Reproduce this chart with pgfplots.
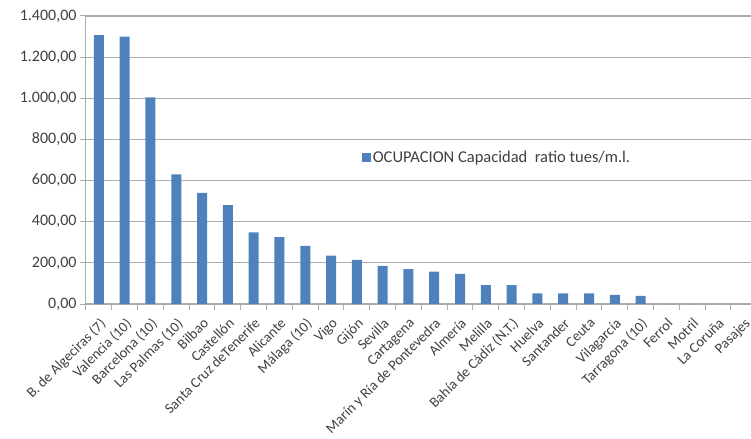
\documentclass[border=0pt]{standalone}
\usepackage{pgfplots}
\pgfplotsset{compat=1.18}
\usepackage{fontspec}
\setmainfont{Carlito}
\definecolor{barblue}{HTML}{4F81BD}
\definecolor{gridgray}{HTML}{ADADAD}
\definecolor{txtgray}{HTML}{404040}

\begin{document}
\begin{tikzpicture}
\begin{axis}[
  at={(0,0)}, anchor=south west,
  scale only axis,
  width=665bp, height=288bp,
  ybar, bar width=10bp,
  xmin=-0.5, xmax=25.28,
  ymin=0, ymax=1400,
  ytick={0,200,...,1400},
  axis lines*=left,
  axis line style={draw=gridgray, line width=1bp},
  ymajorgrids,
  grid style={draw=gridgray, line width=1.2bp},
  tick align=outside,
  major tick length=6bp,
  tick style={draw=gridgray, line width=1bp},
  /pgf/number format/assume math mode=true,
  yticklabel style={font=\fontsize{16bp}{18bp}\selectfont, text=txtgray,
    /pgf/number format/.cd, fixed, fixed zerofill, precision=2,
    use comma, 1000 sep={.}},
  xtick={0,...,25},
  xtick style={draw=none},
  xticklabels={B. de Algeciras (7), Valencia (10), Barcelona (10), Las Palmas (10),
    Bilbao, Castellón, Santa Cruz deTenerife, Alicante, Málaga  (10), Vigo, Gijón,
    Sevilla, Cartagena, Marín y Ría de Pontevedra, Almería, Melilla,
    Bahía de Cádiz (N.T.), Huelva, Santander, Ceuta, Vilagarcía, Tarragona (10),
    Ferrol, Motril, La Coruña, Pasajes},
  xticklabel style={rotate=45, anchor=north east, inner sep=1bp,
    xshift=-4bp, yshift=-4bp,
    font=\fontsize{14.5bp}{16bp}\selectfont, text=txtgray},
  extra x ticks={-0.5,0.5,...,24.5},
  extra x tick labels={},
  extra x tick style={grid=none, xtick style={draw=gridgray, line width=1bp},
    major tick length=6bp},
  legend style={at={(0.618,0.507)}, anchor=center, draw=none, fill=none,
    font=\fontsize{16.5bp}{18bp}\selectfont, text=txtgray},
  legend image code/.code={\fill[barblue] (0bp,-4.5bp) rectangle (9bp,4.5bp);},
]
\addplot[fill=barblue, draw=none] coordinates {
  (0,1307) (1,1300) (2,1005) (3,630) (4,540) (5,481) (6,348) (7,325)
  (8,283) (9,235) (10,214) (11,185) (12,170) (13,157) (14,146) (15,92)
  (16,92) (17,52) (18,52) (19,52) (20,44) (21,39) (22,0) (23,0)
  (24,0) (25,0)
};
\addlegendentry{OCUPACION Capacidad\ \ ratio tues/m.l.}
\end{axis}
\pgfresetboundingbox
\path (-86bp,-135bp) rectangle (665bp,304bp);
\end{tikzpicture}
\end{document}
